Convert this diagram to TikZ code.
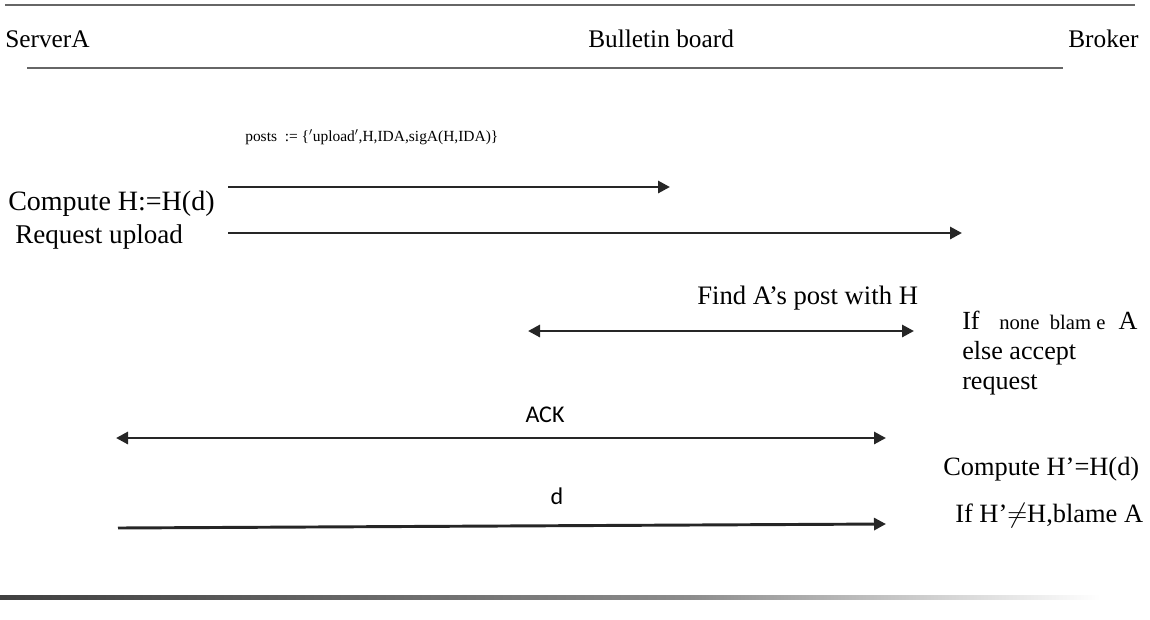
\documentclass[tikz,border=0pt]{standalone}
\usepackage{fontspec}
\setmainfont{Liberation Serif}
\newfontfamily\calib{Carlito}
\usetikzlibrary{arrows.meta}
\begin{document}
\begin{tikzpicture}[x=0.75pt,y=-0.75pt,
  lbl/.style={inner sep=0pt,anchor=base west,font=\fontsize{19}{22}\selectfont},
  rlbl/.style={inner sep=0pt,anchor=base west,font=\fontsize{19.8}{22}\selectfont},
  sans/.style={inner sep=0pt,anchor=base,font=\calib\fontsize{18}{22}\selectfont},
  rule/.style={draw=black!60,line width=2.2pt},
  msg/.style={draw=black!85,line width=2.2pt,-{Triangle[length=9pt,width=9pt]}},
  dmsg/.style={draw=black!85,line width=2.2pt,{Triangle[length=9pt,width=9pt]}-{Triangle[length=9pt,width=9pt]}}]
\useasboundingbox (0,0) rectangle (1150,619);
% rules
\coordinate (t1) at (5,5); \coordinate (t2) at (1135,5);
\draw[rule] (t1) -- (t2);
\coordinate (h1) at (27,68); \coordinate (h2) at (1063,68);
\draw[rule] (h1) -- (h2);
\shade[left color=black!75,right color=black!45] (0,595) rectangle (690,599);
\shade[left color=black!45,right color=white] (690,595) rectangle (1100,599);
% headers
\node[lbl] (srv) at (5,47) {ServerA};
\node[lbl] (bb) at (588,47) {Bulletin board};
\node[lbl] (brk) at (1068,47) {Broker};
% post label
\node[inner sep=0pt,anchor=base west,font=\fontsize{11.6}{13}\selectfont] (post) at (245,141)
  {posts\ \ := \{$^\prime$upload$^\prime$,H,IDA,sigA(H,IDA)\}};
% left texts
\node[lbl,font=\fontsize{21}{24}\selectfont] (comp) at (8,210) {Compute H:=H(d)};
\node[lbl,font=\fontsize{20.3}{24}\selectfont] (req) at (15,243) {Request upload};
% arrows 1,2
\coordinate (a1s) at (228,187); \coordinate (a1e) at (670,187);
\draw[msg] (a1s) -- (a1e);
\coordinate (a2s) at (228,233); \coordinate (a2e) at (962,233);
\draw[msg] (a2s) -- (a2e);
% find
\node[rlbl,font=\fontsize{20}{24}\selectfont] (find) at (697,304) {Find A’s post with H};
\coordinate (a3s) at (528,331); \coordinate (a3e) at (914,331);
\draw[dmsg] (a3s) -- (a3e);
% right block
\node[lbl,font=\fontsize{19.6}{24}\selectfont] (ifn) at (962,329) {If\ \ \ {\fontsize{15.5}{18}\selectfont none\ \ blam e}\ \ A};
\node[lbl,font=\fontsize{19.6}{24}\selectfont] (els) at (962,359) {else accept};
\node[lbl,font=\fontsize{19.6}{24}\selectfont] (rq) at (962,389) {request};
% ACK
\node[sans] (ack) at (545,422) {ACK};
\coordinate (a4s) at (116,438); \coordinate (a4e) at (886,438);
\draw[dmsg] (a4s) -- (a4e);
\node[rlbl] (comp2) at (943,475) {Compute H’=H(d)};
% d
\node[sans] (dl) at (557,504) {d};
\coordinate (a5s) at (118,528); \coordinate (a5e) at (886,524);
\draw[msg] (a5s) -- (a5e);
\node[rlbl] (blame) at (955,522) {If H’$\neq$H,blame A};
\end{tikzpicture}
\end{document}
